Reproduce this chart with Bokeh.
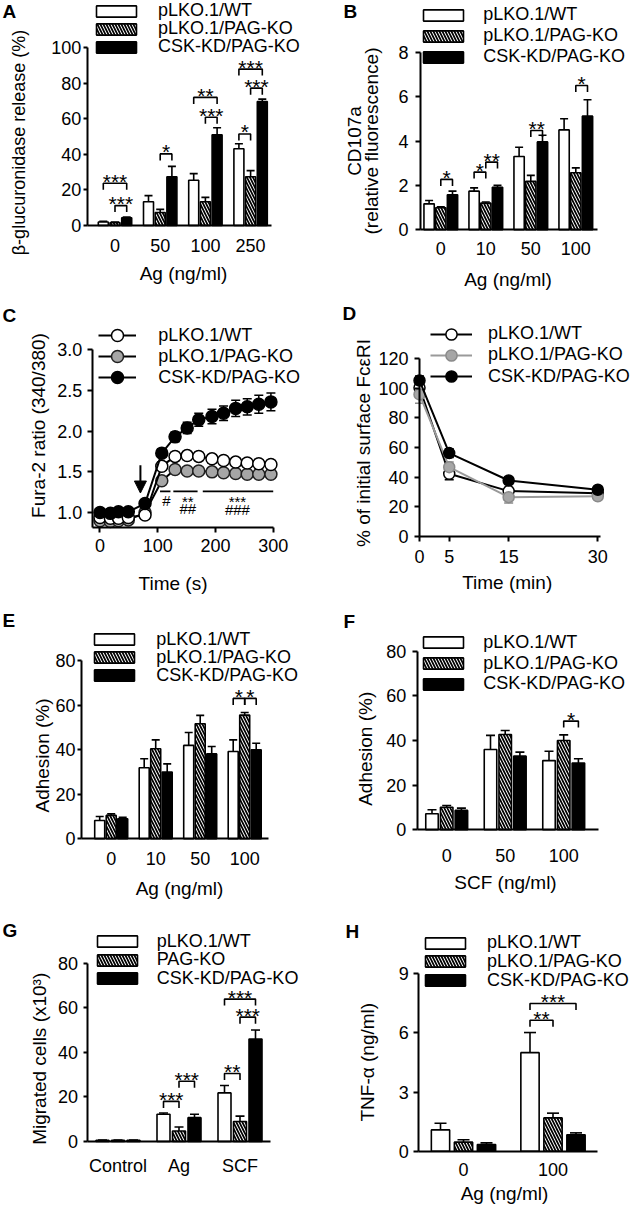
from bokeh.plotting import figure
from bokeh.layouts import gridplot
from bokeh.models import (Range1d, FixedTicker, PrintfTickFormatter, Legend, LegendItem,
                          Label, Whisker, TeeHead, Arrow, NormalHead, ColumnDataSource)
from bokeh.core.properties import value
from bokeh.embed import file_html
from bokeh.resources import INLINE

FONT = "Liberation Sans"

# ------------------------------------------------------------------ data
SERIES = ["pLKO.1/WT", "pLKO.1/PAG-KO", "CSK-KD/PAG-KO"]
SERIES_G = ["pLKO.1/WT", "PAG-KO", "CSK-KD/PAG-KO"]

# A  beta-glucuronidase release
A_groups = ["0", "50", "100", "250"]
A_wt = [2.0, 13.4, 25.5, 43.2]
A_wt_err = [0.3, 3.4, 3.7, 2.8]
A_pag = [1.6, 7.3, 13.4, 27.4]
A_pag_err = [0.3, 1.8, 2.4, 3.5]
A_csk = [4.3, 27.4, 51.0, 69.8]
A_csk_err = [0.4, 5.9, 4.0, 1.3]
A_yticks = [0, 20, 40, 60, 80, 100]
A_sig = [(0, 0, 2, 23.8, "***"), (0, 1, 2, 11.2, "***"), (1, 1, 2, 40.3, "*"),
         (2, 0, 2, 72.1, "**"), (2, 1, 2, 60.9, "***"), (3, 0, 2, 88.0, "***"),
         (3, 1, 2, 77.3, "***"), (3, 0, 1, 51.5, "*")]

# B  CD107a
B_groups = ["0", "10", "50", "100"]
B_wt = [1.17, 1.74, 3.30, 4.50]
B_wt_err = [0.15, 0.15, 0.42, 0.50]
B_pag = [0.99, 1.20, 2.18, 2.57]
B_pag_err = [0.05, 0.05, 0.27, 0.22]
B_csk = [1.58, 1.92, 3.96, 5.12]
B_csk_err = [0.16, 0.08, 0.30, 0.74]
B_yticks = [0, 2, 4, 6, 8]
B_sig = [(0, 1, 2, 2.27, "*"), (1, 0, 1, 2.6, "*"), (1, 1, 2, 3.05, "**"),
         (2, 1, 2, 4.47, "**"), (3, 1, 2, 6.5, "*")]

# C  Fura-2 ratio
C_time = [0, 18, 32, 49, 78, 107, 130, 151, 171, 194, 214, 235, 255, 275, 296]
C_wt = [0.94, 0.93, 0.93, 0.94, 0.97, 1.57, 1.69, 1.70, 1.69, 1.66, 1.64, 1.62, 1.61, 1.60, 1.59]
C_wt_err = [0.03, 0.03, 0.03, 0.03, 0.03, 0.05, 0.05, 0.05, 0.05, 0.05, 0.05, 0.05, 0.05, 0.05, 0.05]
C_pag = [0.90, 0.89, 0.90, 0.91, 1.00, 1.39, 1.53, 1.51, 1.51, 1.50, 1.49, 1.48, 1.47, 1.47, 1.47]
C_pag_err = [0.03, 0.03, 0.03, 0.03, 0.03, 0.04, 0.04, 0.04, 0.04, 0.04, 0.04, 0.04, 0.04, 0.04, 0.04]
C_csk = [1.00, 0.99, 1.01, 1.01, 1.11, 1.73, 1.93, 2.04, 2.14, 2.18, 2.22, 2.28, 2.30, 2.33, 2.36]
C_csk_err = [0.03, 0.03, 0.03, 0.03, 0.03, 0.05, 0.06, 0.07, 0.08, 0.09, 0.09, 0.10, 0.10, 0.11, 0.11]
C_xticks = [0, 100, 200, 300]
C_yticks = [1.0, 1.5, 2.0, 2.5, 3.0]
C_sig_x0 = [104, 127, 178]
C_sig_x1 = [122, 169, 300]
C_sig_y = [1.26, 1.26, 1.26]
C_sig_text = ["#", "**", "##", "***", "###"]
C_sig_tx = [115, 152, 152, 238, 238]
C_sig_ty = [1.15, 1.13, 1.05, 1.13, 1.04]
C_arrow_t = 70
C_arrow_y = [1.58, 1.24]

# D  surface FceRI
D_time = [0, 5, 15, 30]
D_wt = [100.4, 42.2, 30.5, 29.0]
D_wt_err = [3.0, 4.0, 2.5, 2.0]
D_pag = [95.9, 46.7, 26.4, 27.0]
D_pag_err = [6.0, 3.5, 4.0, 2.0]
D_csk = [105.3, 56.2, 37.7, 31.4]
D_csk_err = [3.0, 3.0, 2.0, 2.0]
D_xticks = [0, 5, 15, 30]
D_yticks = [0, 20, 40, 60, 80, 100, 120]

# E  adhesion, Ag
E_groups = ["0", "10", "50", "100"]
E_wt = [8.2, 31.9, 41.9, 39.2]
E_wt_err = [1.8, 4.0, 5.8, 5.2]
E_pag = [10.5, 40.4, 51.6, 55.5]
E_pag_err = [0.7, 4.0, 3.8, 1.2]
E_csk = [9.0, 30.0, 38.1, 39.9]
E_csk_err = [0.7, 3.6, 3.3, 3.0]
E_yticks = [0, 20, 40, 60, 80]
E_sig = [(3, 0, 1, 63.0, "*"), (3, 1, 2, 63.0, "*")]

# F  adhesion, SCF
F_groups = ["0", "50", "100"]
F_wt = [7.2, 36.0, 31.0]
F_wt_err = [1.8, 6.3, 4.2]
F_pag = [10.1, 42.7, 40.0]
F_pag_err = [0.8, 1.8, 2.5]
F_csk = [8.7, 33.0, 29.9]
F_csk_err = [1.0, 1.8, 1.9]
F_yticks = [0, 20, 40, 60, 80]
F_sig = [(2, 1, 2, 48.7, "*")]

# G  migration
G_groups = ["Control", "Ag", "SCF"]
G_wt = [0.5, 12.2, 21.8]
G_wt_err = [0.1, 0.6, 3.3]
G_pag = [0.5, 4.7, 9.0]
G_pag_err = [0.1, 1.8, 2.4]
G_csk = [0.5, 10.7, 46.0]
G_csk_err = [0.1, 1.5, 4.0]
G_yticks = [0, 20, 40, 60, 80]
G_sig = [(1, 0, 1, 18.0, "***"), (1, 1, 2, 27.0, "***"), (2, 0, 1, 30.5, "**"),
         (2, 1, 2, 55.8, "***"), (2, 0, 2, 63.9, "***")]

# H  TNF-alpha
H_groups = ["0", "100"]
H_wt = [1.08, 5.0]
H_wt_err = [0.34, 1.02]
H_pag = [0.46, 1.69]
H_pag_err = [0.12, 0.24]
H_csk = [0.34, 0.83]
H_csk_err = [0.08, 0.10]
H_yticks = [0, 3, 6, 9]
H_sig = [(1, 0, 1, 6.64, "**"), (1, 0, 2, 7.49, "***")]

# ------------------------------------------------------------------ layout (page px)
GEO = {
    "A": dict(box=(0, 0, 320, 300), frame=(86.7, 271, 47.3, 225), c0=114.5, sp=45.2, bw=10, off=11.7, cap=8,
              ytick_out=4, ylab_standoff=2, xlab_standoff=13,
              legend=dict(left=91, first=11.5, step=18, gw=50, gh=14, standoff=17),
              letter=(2, 0), ytitle=[("β-glucuronidase release (%)", 18, 142, 18)],
              xtitle=("Ag (ng/ml)", 183, 272.5, 19)),
    "B": dict(box=(320, 0, 320, 300), frame=(420, 597, 51.7, 229.3), c0=440.3, sp=45, bw=10.3, off=11.7, cap=8,
              ytick_out=5, ylab_standoff=7, xlab_standoff=12,
              legend=dict(left=418.3, first=15.5, step=21, gw=50, gh=14, standoff=15),
              letter=(343, 0), ytitle=[("CD107a", 354, 140.5, 19), ("(relative fluorescence)", 371, 140.5, 19)],
              xtitle=("Ag (ng/ml)", 507.5, 279, 19)),
    "C": dict(box=(0, 300, 320, 300), frame=(91.7, 273.3, 349.3, 526.7),
              ytick_out=5, ylab_standoff=5, xlab_standoff=7,
              legend=dict(left=98.3, first=335, step=21, gw=38, gh=30, standoff=22),
              letter=(2, 304), ytitle=[("Fura-2 ratio (340/380)", 38.3, 425, 19)],
              xtitle=("Time (s)", 172.5, 582.5, 19)),
    "D": dict(box=(320, 300, 320, 300), frame=(419, 600, 358.3, 535.7),
              ytick_out=5, ylab_standoff=6, xlab_standoff=9,
              legend=dict(left=430, first=333.5, step=21.3, gw=42, gh=28, standoff=16),
              letter=(342, 302), ytitle=[("% of initial surface FcεRI", 362.5, 442.5, 19)],
              xtitle=("Time (min)", 506.7, 581.7, 19)),
    "E": dict(box=(0, 600, 320, 300), frame=(81, 268, 660, 838.3), c0=110.7, sp=44.5, bw=10, off=11.5, cap=8,
              ytick_out=4, ylab_standoff=2, xlab_standoff=13,
              legend=dict(left=89.3, first=640, step=18, gw=50, gh=14, standoff=17),
              letter=(2, 609), ytitle=[("Adhesion (%)", 41.7, 755, 19)],
              xtitle=("Ag (ng/ml)", 179, 887.5, 19)),
    "F": dict(box=(320, 600, 320, 300), frame=(416.7, 598, 650.7, 829.3), c0=446.2, sp=58.5, bw=12.5, off=14.7, cap=9,
              ytick_out=5, ylab_standoff=6, xlab_standoff=19,
              legend=dict(left=418.3, first=643.3, step=20.8, gw=50, gh=14, standoff=15),
              letter=(343, 610), ytitle=[("Adhesion (%)", 365, 748.3, 19)],
              xtitle=("SCF (ng/ml)", 505, 881.7, 19)),
    "G": dict(box=(0, 900, 320, 310), frame=(86.5, 270, 962.7, 1141), c0=117.5, sp=61, bw=13, off=15.5, cap=9,
              ytick_out=4, ylab_standoff=5, xlab_standoff=14,
              legend=dict(left=91.7, first=942.3, step=18.4, gw=50, gh=14, standoff=15),
              letter=(2, 919), ytitle=[("Migrated cells (x10³)", 39, 1058.3, 19)],
              xtitle=None),
    "H": dict(box=(320, 900, 320, 310), frame=(418.3, 597, 973.3, 1150.7), c0=463, sp=89.5, bw=18.3, off=23, cap=12,
              ytick_out=5, ylab_standoff=5, xlab_standoff=12,
              legend=dict(left=420, first=943.5, step=18.8, gw=50, gh=14, standoff=17),
              letter=(345, 920), ytitle=[("TNF-α (ng/ml)", 366.7, 1061.7, 19)],
              xtitle=("Ag (ng/ml)", 504, 1193, 19)),
}

BAR_STYLES = [
    dict(fill_color="white"),
    dict(fill_color="white", hatch_pattern="left_diagonal_line", hatch_color="black",
         hatch_scale=6, hatch_weight=1.7),
    dict(fill_color="black"),
]


def set_mapping(g, x0, x1, y0, y1):
    """Axis extents (data) that sit on the reference's axis lines (page px)."""
    fl, fr, ft, fb = g["frame"]
    bx = (fr - fl) / (x1 - x0)
    ax = fl - x0 * bx
    by = (fb - ft) / (y1 - y0)
    ay = fb + y0 * by
    g["m"] = (ax, bx, ay, by)
    g["ext"] = (x0, x1, y0, y1)


def conv(g, px, py):
    ax, bx, ay, by = g["m"]
    return (px - ax) / bx, (ay - py) / by


def base_figure(g, yticks):
    ox, oy, w, h = g["box"]
    ax, bx, ay, by = g["m"]
    x0, x1, y0, y1 = g["ext"]
    xr = ((ox - ax) / bx, (ox + w - ax) / bx)
    yr = ((ay - (oy + h)) / by, (ay - oy) / by)
    p = figure(width=w, height=h, x_range=Range1d(*xr), y_range=Range1d(*yr),
               output_backend="svg", toolbar_location=None,
               min_border_left=0, min_border_right=0, min_border_top=0, min_border_bottom=0)
    p.title.visible = False
    p.outline_line_color = None
    p.xgrid.visible = False
    p.ygrid.visible = False
    p.background_fill_color = "white"
    p.border_fill_color = "white"
    for axis in (p.xaxis[0], p.yaxis[0]):
        axis.axis_line_width = 2
        axis.axis_line_color = "black"
        axis.major_tick_line_width = 2
        axis.major_tick_line_color = "black"
        axis.major_tick_in = 0
        axis.minor_tick_line_color = None
        axis.major_label_text_font = FONT
        axis.major_label_text_font_size = "18px"
        axis.major_label_text_color = "black"
    yax = p.yaxis[0]
    yax.ticker = FixedTicker(ticks=yticks)
    yax.major_tick_out = g["ytick_out"]
    yax.major_label_standoff = g["ylab_standoff"]
    yax.fixed_location = x0
    yax.bounds = (y0, y1)
    xax = p.xaxis[0]
    xax.major_label_standoff = g["xlab_standoff"]
    xax.fixed_location = y0
    xax.bounds = (x0, x1)
    return p


def add_texts(p, g, name):
    lx, ly = conv(g, *g["letter"])
    p.add_layout(Label(x=lx, y=ly, text=name, text_font=FONT, text_font_size="19px",
                       text_font_style="bold", text_align="left", text_baseline="top",
                       text_color="black"))
    for (t, cx, cy, s) in g["ytitle"]:
        x, y = conv(g, cx, cy)
        p.add_layout(Label(x=x, y=y, text=t, angle=90, angle_units="deg", text_font=FONT,
                           text_font_size=f"{s}px", text_align="center", text_baseline="middle",
                           text_color="black"))
    if g["xtitle"]:
        t, cx, cy, s = g["xtitle"]
        x, y = conv(g, cx, cy)
        p.add_layout(Label(x=x, y=y, text=t, text_font=FONT, text_font_size=f"{s}px",
                           text_align="center", text_baseline="middle", text_color="black"))


def add_legend(p, g, items):
    """One single-row legend per entry, so each row sits where the reference has it."""
    lg = g["legend"]
    ox, oy, w, h = g["box"]
    row_h = max(lg["gh"], 19)
    for k, item in enumerate(items):
        center = lg["first"] + k * lg["step"]
        bottom = center + row_h / 2
        leg = Legend(items=[item], location=(lg["left"] - ox, oy + h - bottom),
                     orientation="vertical",
                     glyph_width=lg["gw"], glyph_height=lg["gh"], label_standoff=lg["standoff"],
                     spacing=0, padding=0, margin=0, border_line_color=None,
                     background_fill_alpha=0, label_text_font=FONT, label_text_font_size="18px",
                     label_text_color="black", label_height=row_h)
        p.add_layout(leg)


def bar_panel(name, groups, means, errs, yticks, sig, labels):
    g = GEO[name]
    fl, fr, ft, fb = g["frame"]
    set_mapping(g, (fl - g["c0"]) / g["sp"], (fr - g["c0"]) / g["sp"], 0, yticks[-1])
    p = base_figure(g, yticks)
    bw = g["bw"] / g["sp"]
    off = g["off"] / g["sp"]
    renderers = []
    for i in range(3):
        xs = [k + (i - 1) * off for k in range(len(groups))]
        src = ColumnDataSource(dict(x=xs, top=means[i],
                                    hi=[m + e for m, e in zip(means[i], errs[i])]))
        r = p.vbar(x="x", top="top", bottom=0, width=bw, source=src, line_color="black",
                   line_width=1.6, **BAR_STYLES[i])
        renderers.append(r)
        p.add_layout(Whisker(source=src, base="x", lower="top", upper="hi", dimension="height",
                             line_color="black", line_width=1.6,
                             upper_head=TeeHead(size=g["cap"], line_color="black", line_width=1.6),
                             lower_head=None))
    xax = p.xaxis[0]
    xax.ticker = FixedTicker(ticks=list(range(len(groups))))
    xax.major_label_overrides = {k: lab for k, lab in enumerate(groups)}
    xax.major_tick_line_color = None
    xax.major_tick_out = 0
    d = 6.5 / g["m"][3]
    xs_l, ys_l, tx, ty, tt = [], [], [], [], []
    for (k, i, j, y, lab) in sig:
        x1 = k + (i - 1) * off
        x2 = k + (j - 1) * off
        xs_l.append([x1, x1, x2, x2])
        ys_l.append([y - d, y, y, y - d])
        tx.append((x1 + x2) / 2)
        ty.append(y)
        tt.append(lab)
    p.multi_line(xs=xs_l, ys=ys_l, line_color="black", line_width=1.6)
    p.text(x=tx, y=ty, text=tt, text_font=value(FONT), text_font_size="21px", text_align="center",
           text_baseline="alphabetic", y_offset=-2, text_color="black")
    add_legend(p, g, [LegendItem(label=l, renderers=[r]) for l, r in zip(labels, renderers)])
    add_texts(p, g, name)
    return p


def line_series(p, x, y, err, fill, edge, lcolor, size, cap):
    src = ColumnDataSource(dict(x=x, y=y, lo=[a - b for a, b in zip(y, err)],
                                hi=[a + b for a, b in zip(y, err)]))
    p.add_layout(Whisker(source=src, base="x", lower="lo", upper="hi", dimension="height",
                         line_color=edge, line_width=1.5,
                         upper_head=TeeHead(size=cap, line_color=edge, line_width=1.5),
                         lower_head=TeeHead(size=cap, line_color=edge, line_width=1.5)))
    lr = p.line("x", "y", source=src, line_color=lcolor, line_width=2)
    sr = p.scatter("x", "y", source=src, marker="circle", size=size, fill_color=fill,
                   line_color=edge, line_width=1.5)
    return [lr, sr]


def panel_c():
    g = GEO["C"]
    set_mapping(g, -13.5, 301, 0.82, 3.0)
    p = base_figure(g, C_yticks)
    p.yaxis[0].formatter = PrintfTickFormatter(format="%.1f")
    xax = p.xaxis[0]
    xax.ticker = FixedTicker(ticks=C_xticks)
    xax.major_tick_out = 5
    r_pag = line_series(p, C_time, C_pag, C_pag_err, "#a6a6a6", "#202020", "black", 12, 9)
    r_wt = line_series(p, C_time, C_wt, C_wt_err, "white", "black", "black", 12, 9)
    r_csk = line_series(p, C_time, C_csk, C_csk_err, "black", "black", "black", 12, 9)
    p.add_layout(Arrow(end=NormalHead(size=12, fill_color="black", line_color="black", line_width=1),
                       x_start=C_arrow_t, y_start=C_arrow_y[0], x_end=C_arrow_t, y_end=C_arrow_y[1],
                       line_width=2, line_color="black"))
    p.segment(x0=C_sig_x0, y0=C_sig_y, x1=C_sig_x1, y1=C_sig_y, line_color="black", line_width=1.6)
    p.text(x=C_sig_tx, y=C_sig_ty, text=C_sig_text, text_font=value(FONT), text_font_size="15px",
           text_align="center", text_baseline="middle", text_color="black")
    add_legend(p, g, [LegendItem(label=SERIES[0], renderers=r_wt),
                      LegendItem(label=SERIES[1], renderers=r_pag),
                      LegendItem(label=SERIES[2], renderers=r_csk)])
    add_texts(p, g, "C")
    return p


def panel_d():
    g = GEO["D"]
    set_mapping(g, 0, 30.45, 0, 120)
    p = base_figure(g, D_yticks)
    xax = p.xaxis[0]
    xax.ticker = FixedTicker(ticks=D_xticks)
    xax.major_tick_out = 5
    r_wt = line_series(p, D_time, D_wt, D_wt_err, "white", "black", "black", 11, 9)
    r_pag = line_series(p, D_time, D_pag, D_pag_err, "#a6a6a6", "#8a8a8a", "#9a9a9a", 11, 9)
    r_csk = line_series(p, D_time, D_csk, D_csk_err, "black", "black", "black", 11, 9)
    add_legend(p, g, [LegendItem(label=SERIES[0], renderers=r_wt),
                      LegendItem(label=SERIES[1], renderers=r_pag),
                      LegendItem(label=SERIES[2], renderers=r_csk)])
    add_texts(p, g, "D")
    return p


pA = bar_panel("A", A_groups, [A_wt, A_pag, A_csk], [A_wt_err, A_pag_err, A_csk_err], A_yticks, A_sig, SERIES)
pB = bar_panel("B", B_groups, [B_wt, B_pag, B_csk], [B_wt_err, B_pag_err, B_csk_err], B_yticks, B_sig, SERIES)
pC = panel_c()
pD = panel_d()
pE = bar_panel("E", E_groups, [E_wt, E_pag, E_csk], [E_wt_err, E_pag_err, E_csk_err], E_yticks, E_sig, SERIES)
pF = bar_panel("F", F_groups, [F_wt, F_pag, F_csk], [F_wt_err, F_pag_err, F_csk_err], F_yticks, F_sig, SERIES)
pG = bar_panel("G", G_groups, [G_wt, G_pag, G_csk], [G_wt_err, G_pag_err, G_csk_err], G_yticks, G_sig, SERIES_G)
pH = bar_panel("H", H_groups, [H_wt, H_pag, H_csk], [H_wt_err, H_pag_err, H_csk_err], H_yticks, H_sig, SERIES)

grid = gridplot([[pA, pB], [pC, pD], [pE, pF], [pG, pH]], toolbar_location=None)

open("out.html", "w").write(file_html(grid, INLINE))
